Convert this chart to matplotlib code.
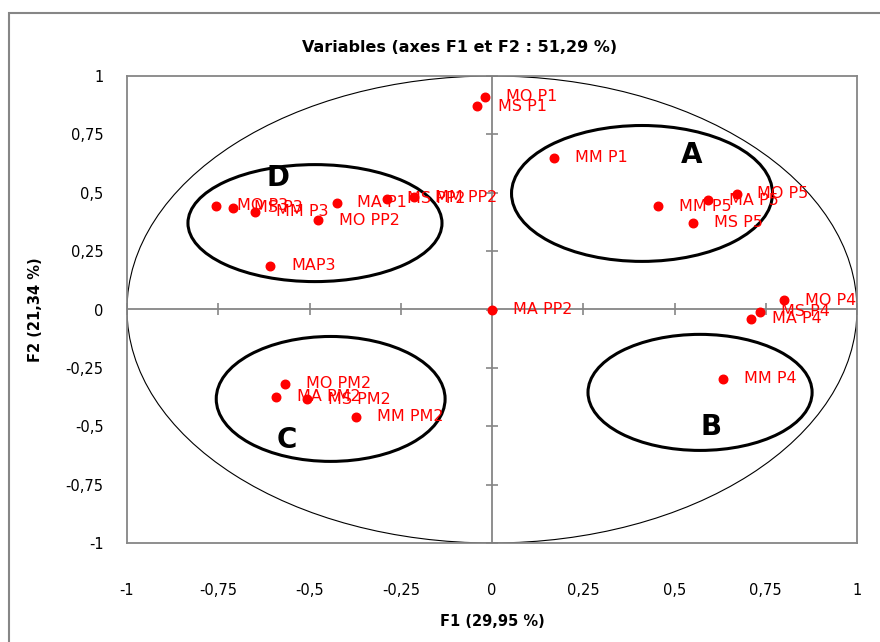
import matplotlib.pyplot as plt
from matplotlib.patches import Ellipse, Circle, Rectangle

# variable coordinates on F1 / F2
labels = ["MO P1", "MS P1", "MM P1", "MM P5", "MA P5", "MO P5", "MS P5",
          "MO P3", "MS P3", "MM P3", "MO PP2", "MA P1", "MS PP2", "MM PP2", "MAP3",
          "MA PP2", "MO P4", "MS P4", "MA P4", "MM P4",
          "MO PM2", "MA PM2", "MS PM2", "MM PM2"]
f1 = [-0.019, -0.042, 0.170, 0.456, 0.593, 0.670, 0.552,
      -0.756, -0.710, -0.649, -0.476, -0.426, -0.289, -0.214, -0.607,
      0.0, 0.801, 0.734, 0.710, 0.634,
      -0.567, -0.592, -0.506, -0.373]
f2 = [0.912, 0.871, 0.650, 0.443, 0.467, 0.495, 0.371,
      0.445, 0.435, 0.418, 0.382, 0.457, 0.474, 0.481, 0.188,
      0.0, 0.039, -0.010, -0.039, -0.297,
      -0.318, -0.374, -0.385, -0.460]

# groups drawn by hand on the chart
groups = ["A", "B", "C", "D"]
group_cx = [0.411, 0.570, -0.442, -0.485]
group_cy = [0.497, -0.355, -0.383, 0.370]
group_w = [0.715, 0.614, 0.627, 0.696]
group_h = [0.582, 0.497, 0.535, 0.501]
letter_x = [0.548, 0.600, -0.562, -0.585]
letter_y = [0.660, -0.505, -0.557, 0.565]

ticks = [-1, -0.75, -0.5, -0.25, 0, 0.25, 0.5, 0.75, 1]
tick_labels = ["-1", "-0,75", "-0,5", "-0,25", "0", "0,25", "0,5", "0,75", "1"]

fig = plt.figure(figsize=(8.8, 6.42), dpi=100)
ax = fig.add_axes([127/880, 1 - 543/642, 730/880, 467/642])
ax.set_xlim(-1, 1)
ax.set_ylim(-1, 1)

grey = "#868686"
for s in ax.spines.values():
    s.set_color(grey)
    s.set_linewidth(1.3)

ax.set_xticks(ticks)
ax.set_xticklabels(tick_labels)
ax.set_yticks(ticks)
ax.set_yticklabels(tick_labels)
ax.tick_params(axis="x", length=0, pad=29, labelsize=10.5)
ax.tick_params(axis="y", length=0, pad=17, labelsize=10.5)

# axes through the origin
sx = ax.secondary_xaxis(0.5)
sx.set_xticks(ticks, labels=[""] * len(ticks))
sx.tick_params(direction="inout", length=8, color=grey, width=1.2,
               labelbottom=False, labeltop=False)
for s in sx.spines.values():
    s.set_color(grey)
    s.set_linewidth(1.3)
sy = ax.secondary_yaxis(0.5)
sy.set_yticks(ticks, labels=[""] * len(ticks))
sy.tick_params(direction="inout", length=8, color=grey, width=1.2,
               labelleft=False, labelright=False)
for s in sy.spines.values():
    s.set_color(grey)
    s.set_linewidth(1.3)

# correlation circle
ax.add_patch(Circle((0, 0), 1, fill=False, color="black", lw=0.8))

for i in range(len(groups)):
    ax.add_patch(Ellipse((group_cx[i], group_cy[i]), group_w[i], group_h[i],
                         fill=False, color="black", lw=2.2))
    ax.text(letter_x[i], letter_y[i], groups[i], fontsize=20, fontweight="bold",
            ha="center", va="center")

ax.scatter(f1, f2, s=38, color="#ff0000", zorder=5)
for x, y, t in zip(f1, f2, labels):
    ax.annotate(t, (x, y), xytext=(15, 0), textcoords="offset points",
                color="#ff0000", fontsize=11.5, va="center")

fig.text(460/880, 1 - 48/642, "Variables (axes F1 et F2 : 51,29 %)",
         fontsize=11.5, fontweight="bold", ha="center", va="center")
fig.text(492/880, 1 - 622/642, "F1 (29,95 %)", fontsize=10.5,
         fontweight="bold", ha="center", va="center")
fig.text(35/880, 1 - 310/642, "F2 (21,34 %)", fontsize=10.5,
         fontweight="bold", ha="center", va="center", rotation=90)

# chart area border
fig.patches.append(Rectangle((9/880, -0.1), 1.2, 1.1 - 13/642, fill=False,
                             edgecolor=grey, lw=1.5, transform=fig.transFigure))

fig.savefig("out.png", dpi=100)
